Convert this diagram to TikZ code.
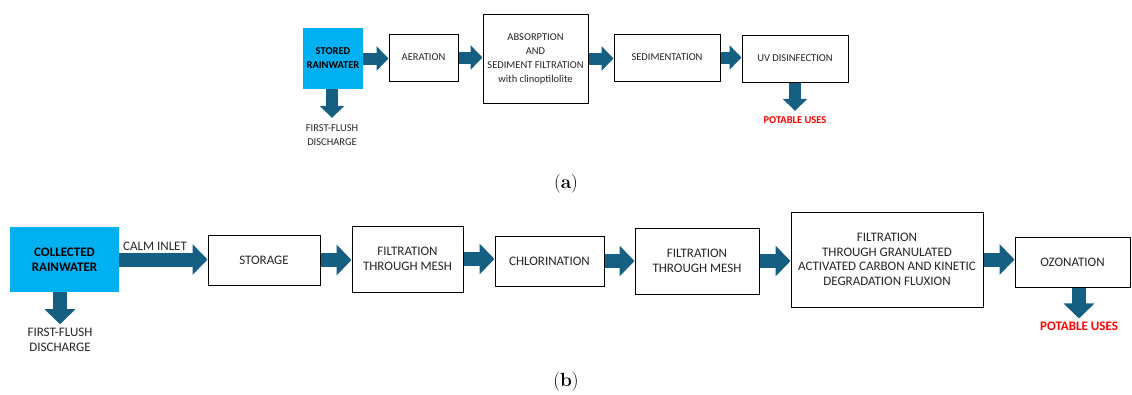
\documentclass[tikz,border=0pt]{standalone}
\usepackage{fontspec}
\setsansfont{Carlito}
\usetikzlibrary{arrows.meta}
\definecolor{pipe}{HTML}{156082}
\definecolor{rain}{HTML}{00B0F0}
\newcommand\fonta{\sffamily\fontsize{10.5}{14}\selectfont}
\newcommand\fontb{\sffamily\fontsize{13}{14.6}\selectfont}
\tikzset{
  stage/.style={draw=black, line width=1pt, fill=white, align=center, text=black!85, inner sep=1pt},
  source/.style={fill=rain, align=center, text=black, inner sep=1pt},
  flowa/.style={draw=pipe, line width=12pt, -{Triangle[length=12pt,width=24pt]}},
  flowb/.style={draw=pipe, line width=14pt, -{Triangle[length=15pt,width=30pt]}},
  note/.style={align=center, text=black!85, inner sep=1pt},
  goal/.style={text=red, inner sep=1pt}
}
\begin{document}
\begin{tikzpicture}[x=1pt,y=-1pt]
\useasboundingbox (0,0) rectangle (1132,394);
\node[source, minimum width=60pt, minimum height=61pt, font=\fonta\bfseries] (stored) at (333,58.5) {STORED\\RAINWATER};
\node[stage, minimum width=69pt, minimum height=47pt, font=\fonta] (aer) at (423.5,57.5) {AERATION};
\node[stage, minimum width=105pt, minimum height=89pt, font=\fonta] (absf) at (535.5,58.5) {ABSORPTION\\AND\\SEDIMENT FILTRATION\\with clinoptilolite};
\node[stage, minimum width=106pt, minimum height=47pt, font=\fonta] (sed) at (667,57.5) {SEDIMENTATION};
\node[stage, minimum width=106pt, minimum height=47pt, font=\fonta] (uv) at (795,58.5) {UV DISINFECTION};
\node[note, font=\fonta] (ffa) at (332,135.5) {FIRST-FLUSH\\DISCHARGE};
\node[goal, font=\fonta\bfseries] (pota) at (795,120) {POTABLE USES};
\foreach \a/\b in {stored/aer, aer/absf, absf/sed, sed/uv}
  \draw[flowa] (\a.east) -- (\a.east -| \b.west);
\draw[flowa] (stored.south -| ffa) -- ([yshift=6pt]ffa.north);
\draw[flowa] (uv.south -| pota) -- ([yshift=4.5pt]pota.north);
\node[font=\fontsize{19}{19}\selectfont] (laba) at (566,184) {(\textbf{a})};
\node[source, minimum width=109pt, minimum height=65pt, font=\fontb\bfseries] (coll) at (64.5,259.5) {COLLECTED\\RAINWATER};
\node[stage, minimum width=112pt, minimum height=50pt, font=\fontb] (stor) at (264,260) {STORAGE};
\node[stage, minimum width=111pt, minimum height=66pt, font=\fontb] (mesha) at (407.5,259) {FILTRATION\\THROUGH MESH};
\node[stage, minimum width=109pt, minimum height=50pt, font=\fontb] (chl) at (549.5,261) {CHLORINATION};
\node[stage, minimum width=124pt, minimum height=66pt, font=\fontb] (meshb) at (697,261) {FILTRATION\\THROUGH MESH};
\node[stage, minimum width=192pt, minimum height=95pt, font=\fontb] (gac) at (887,259.5) {FILTRATION\\THROUGH GRANULATED\\ACTIVATED CARBON AND KINETIC\\DEGRADATION FLUXION};
\node[stage, minimum width=115pt, minimum height=50pt, font=\fontb] (ozo) at (1072.5,262) {OZONATION};
\node[note, font=\fontb] (ffb) at (60,340) {FIRST-FLUSH\\DISCHARGE};
\node[goal, font=\fontb\bfseries] (potb) at (1079,326) {POTABLE USES};
\node[note, font=\fontb, anchor=south] (calm) at (155,252) {CALM INLET};
\draw[flowb] (coll.east) -- (coll.east -| stor.west);
\foreach \a/\b in {stor/mesha, mesha/chl, chl/meshb, meshb/gac, gac/ozo}
  \draw[flowb] (\a.east) -- (\a.east -| \b.west);
\draw[flowb] (coll.south -| ffb) -- ([yshift=3pt]ffb.north);
\draw[flowb] (ozo.south -| potb) -- ([yshift=2pt]potb.north);
\node[font=\fontsize{19}{19}\selectfont] (labb) at (566,382) {(\textbf{b})};
\end{tikzpicture}
\end{document}
